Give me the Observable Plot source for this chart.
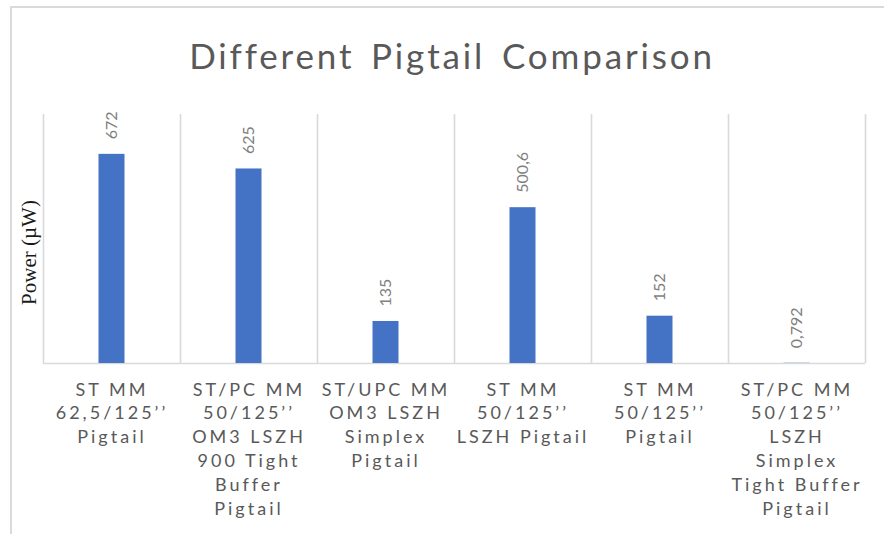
<!DOCTYPE html>
<html>
<head>
<meta charset="utf-8">
<script src="https://cdn.jsdelivr.net/npm/d3@7"></script>
<script src="https://cdn.jsdelivr.net/npm/@observablehq/plot@0.6"></script>
<style>
  body { margin: 0; background: #fff; }
  #chart { position: relative; width: 884px; height: 534px; overflow: hidden; background: #fff; }
  #chart .frame {
    position: absolute; left: 10px; top: 6px; width: 880px; height: 540px;
    border-top: 2px solid #dadada; border-left: 2px solid #dadada;
  }
  #chart .title {
    position: absolute; left: 0; width: 904px; top: 35px; line-height: 40px;
    text-align: center; font-family: Lato, sans-serif; font-size: 35px;
    color: #595959; letter-spacing: 2.85px; word-spacing: 5px;
  }
  #chart svg { position: absolute; left: 0; top: 0; }
  #chart g[aria-label="x-axis tick label"] text { letter-spacing: 3px; }
  #chart g[aria-label="value labels"] text { letter-spacing: 1px; }
  #chart g[aria-label="y label"] text { letter-spacing: 0.6px; }
</style>
</head>
<body>
<div id="chart">
  <div class="frame"></div>
  <div class="title">Different Pigtail Comparison</div>
</div>
<script>
// Pigtail types (wrapped as shown under each bar)
const categories = [
  "ST MM\n62,5/125’’\nPigtail",
  "ST/PC MM\n50/125’’\nOM3 LSZH\n900 Tight\nBuffer\nPigtail",
  "ST/UPC MM\nOM3 LSZH\nSimplex\nPigtail",
  "ST MM\n50/125’’\nLSZH Pigtail",
  "ST MM\n50/125’’\nPigtail",
  "ST/PC MM\n50/125’’\nLSZH\nSimplex\nTight Buffer\nPigtail"
];
// Measured optical power, µW
const powerValues = [672, 625, 135, 500.6, 152, 0.792];
const yMax = 800;

const rows = categories.map((name, i) => ({index: i, name, power: powerValues[i]}));
const fmt = d3.formatLocale({decimal: ",", thousands: ".", grouping: [3], currency: ["", ""]}).format("");

const chart = Plot.plot({
  width: 884,
  height: 534,
  marginTop: 114,
  marginBottom: 171,
  marginLeft: 43,
  marginRight: 19,
  style: {fontFamily: "Lato, sans-serif", background: "transparent"},
  x: {type: "linear", domain: [0, categories.length], axis: null},
  y: {domain: [0, yMax], axis: null},
  marks: [
    // category separators
    Plot.ruleX(d3.range(categories.length + 1), {y1: 0, y2: yMax, stroke: "#d9d9d9", strokeWidth: 1.6}),
    Plot.ruleY([0], {stroke: "#d9d9d9", strokeWidth: 1.6}),
    Plot.rectY(rows, {
      x1: "index", x2: d => d.index + 1, y: "power",
      insetLeft: 55.5, insetRight: 55.5, fill: "#4472C4"
    }),
    Plot.text(rows, {
      x: d => d.index + 0.5, y: "power", text: d => fmt(d.power),
      rotate: -90, textAnchor: "start", lineAnchor: "middle", dy: -15,
      fontSize: 16, fill: "#7f7f7f", ariaLabel: "value labels"
    }),
    Plot.axisX(categories.map((_, i) => i + 0.5), {
      tickFormat: d => categories[Math.floor(d)],
      tickSize: 0, tickPadding: 15, lineAnchor: "top", lineHeight: 1.33,
      fontSize: 18, fill: "#595959", label: null
    }),
    Plot.text(["Power (µW)"], {
      frameAnchor: "left", rotate: -90, textAnchor: "middle", lineAnchor: "middle",
      dx: -14, dy: 13.5, fontSize: 21, fontFamily: "'Liberation Serif', serif", fill: "#1a1a1a",
      ariaLabel: "y label"
    })
  ]
});
document.getElementById("chart").appendChild(chart);
</script>
</body>
</html>
